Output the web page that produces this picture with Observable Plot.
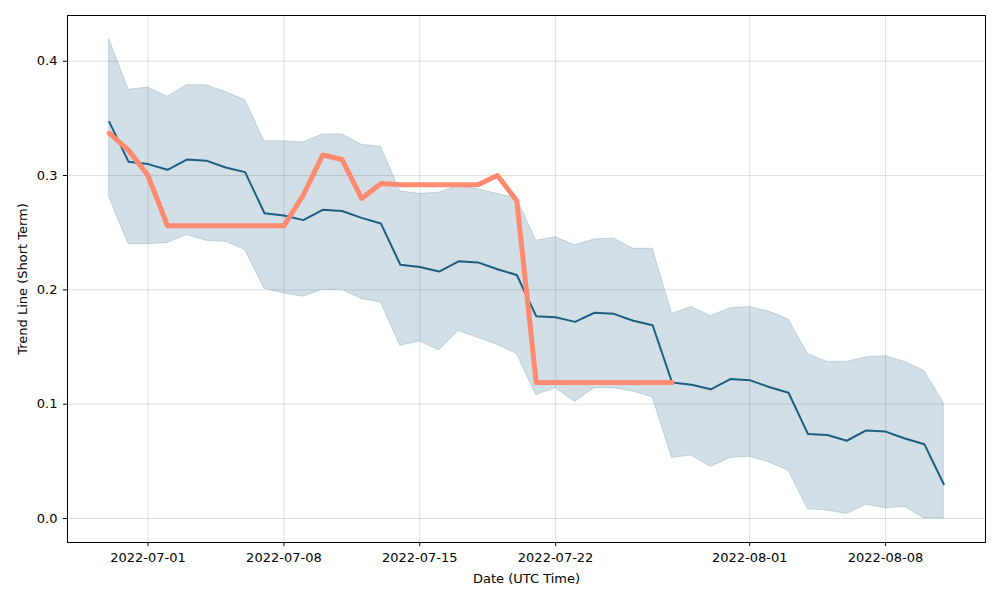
<!DOCTYPE html>
<html>
<head>
<meta charset="utf-8">
<script src="https://cdn.jsdelivr.net/npm/d3@7"></script>
<script src="https://cdn.jsdelivr.net/npm/@observablehq/plot@0.6"></script>
<style>
  html, body { margin: 0; padding: 0; background: #fff; }
  #chart { width: 1000px; height: 600px; }
  svg { font-family: "DejaVu Sans", sans-serif; }
</style>
</head>
<body>
<div id="chart"></div>
<script>
const dates = [
  "2022-06-29","2022-06-30","2022-07-01","2022-07-02","2022-07-03","2022-07-04","2022-07-05","2022-07-06",
  "2022-07-07","2022-07-08","2022-07-09","2022-07-10","2022-07-11","2022-07-12","2022-07-13","2022-07-14",
  "2022-07-15","2022-07-16","2022-07-17","2022-07-18","2022-07-19","2022-07-20","2022-07-21","2022-07-22",
  "2022-07-23","2022-07-24","2022-07-25","2022-07-26","2022-07-27","2022-07-28","2022-07-29","2022-07-30",
  "2022-07-31","2022-08-01","2022-08-02","2022-08-03","2022-08-04","2022-08-05","2022-08-06","2022-08-07",
  "2022-08-08","2022-08-09","2022-08-10","2022-08-11"
];
const meanTrend = [
  0.347,0.312,0.310,0.305,0.314,0.313,0.307,0.303,
  0.267,0.265,0.261,0.270,0.269,0.263,0.258,0.222,
  0.220,0.216,0.225,0.224,0.218,0.213,0.177,0.176,
  0.172,0.180,0.179,0.173,0.169,0.119,0.117,0.113,
  0.122,0.121,0.115,0.110,0.074,0.073,0.068,0.077,
  0.076,0.070,0.065,0.030
];
const upperBand = [
  0.419,0.375,0.377,0.369,0.379,0.379,0.373,0.366,
  0.330,0.330,0.329,0.336,0.336,0.327,0.325,0.286,
  0.284,0.285,0.291,0.288,0.284,0.280,0.243,0.246,
  0.239,0.244,0.245,0.236,0.236,0.179,0.185,0.177,
  0.184,0.185,0.181,0.174,0.144,0.137,0.137,0.141,
  0.142,0.137,0.129,0.101
];
const lowerBand = [
  0.281,0.240,0.240,0.241,0.248,0.243,0.242,0.235,
  0.201,0.197,0.194,0.200,0.200,0.192,0.189,0.151,
  0.155,0.147,0.164,0.158,0.152,0.144,0.108,0.114,
  0.102,0.114,0.114,0.111,0.106,0.053,0.055,0.045,
  0.053,0.054,0.049,0.042,0.008,0.007,0.004,0.012,
  0.009,0.010,0.000,0.000
];
const shortTrend = [
  0.337,0.322,0.300,0.256,0.256,0.256,0.256,0.256,
  0.256,0.256,0.283,0.318,0.314,0.280,0.293,0.292,
  0.292,0.292,0.292,0.292,0.300,0.278,0.119,0.119,
  0.119,0.119,0.119,0.119,0.119,0.119
];
const xTicks = ["2022-07-01","2022-07-08","2022-07-15","2022-07-22","2022-08-01","2022-08-08"];
const yTicks = [0.0, 0.1, 0.2, 0.3, 0.4];

const parse = d3.utcParse("%Y-%m-%d");
const band = dates.map((d, i) => ({date: parse(d), mean: meanTrend[i], lo: lowerBand[i], hi: upperBand[i]}));
const short = shortTrend.map((v, i) => ({date: parse(dates[i]), value: v}));

const xDomain = [new Date(Date.UTC(2022, 5, 29) - 2.15 * 864e5), new Date(Date.UTC(2022, 7, 11) + 2.15 * 864e5)];

const chart = Plot.plot({
  width: 1000,
  height: 600,
  marginLeft: 67,
  marginRight: 15,
  marginTop: 15,
  marginBottom: 58,
  style: {fontFamily: "DejaVu Sans, sans-serif", fontSize: "13px", color: "#000", background: "#fff"},
  x: {type: "utc", domain: xDomain, ticks: xTicks.map(parse), tickFormat: d3.utcFormat("%Y-%m-%d"), tickSize: 4, tickPadding: 6, label: null},
  y: {domain: [-0.021, 0.440], ticks: yTicks, tickFormat: d3.format(".1f"), tickSize: 4, tickPadding: 6, label: null},
  marks: [
    Plot.gridX(xTicks.map(parse), {stroke: "#b0b0b0", strokeOpacity: 0.4, strokeWidth: 1}),
    Plot.gridY(yTicks, {stroke: "#b0b0b0", strokeOpacity: 0.4, strokeWidth: 1}),
    Plot.areaY(band, {x: "date", y1: "lo", y2: "hi", fill: "#1d5f80", fillOpacity: 0.2, stroke: "#1d5f80", strokeOpacity: 0.2, strokeWidth: 1}),
    Plot.lineY(band, {x: "date", y: "mean", stroke: "#1d5f80", strokeWidth: 2}),
    Plot.lineY(short, {x: "date", y: "value", stroke: "#ff8a70", strokeWidth: 5, strokeLinejoin: "round"}),
    Plot.axisX({ticks: xTicks.map(parse), tickFormat: d3.utcFormat("%Y-%m-%d"), tickSize: 4, tickPadding: 6, label: null, fontSize: 13}),
    Plot.axisY({ticks: yTicks, tickFormat: d3.format(".1f"), tickSize: 4, tickPadding: 6, label: null, fontSize: 13}),
    Plot.frame({stroke: "#000", strokeWidth: 1}),
    Plot.text(["Date (UTC Time)"], {frameAnchor: "bottom", dy: 40, fontSize: 13, fill: "#000"}),
    Plot.text(["Trend Line (Short Term)"], {frameAnchor: "left", textAnchor: "middle", dx: -45, rotate: -90, fontSize: 13, fill: "#000"})
  ]
});
document.getElementById("chart").appendChild(chart);
</script>
</body>
</html>
